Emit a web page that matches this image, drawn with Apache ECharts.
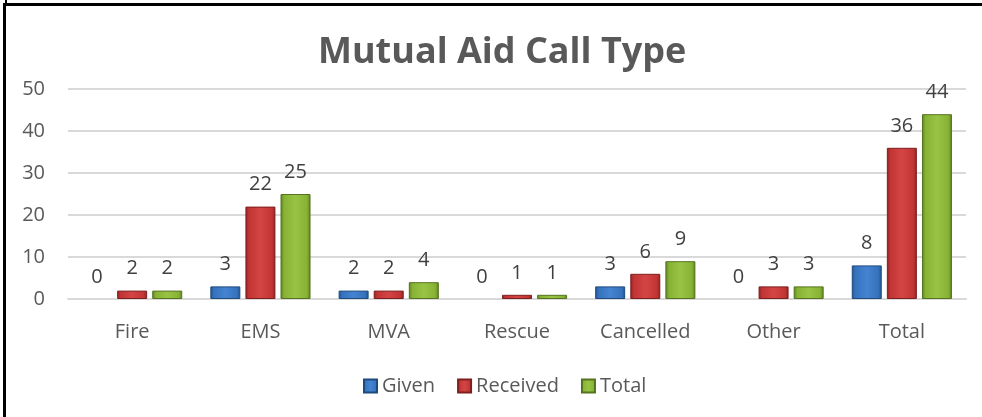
<!DOCTYPE html>
<html>
<head>
<meta charset="utf-8">
<script src="https://cdn.jsdelivr.net/npm/echarts@6/dist/echarts.min.js"></script>
<style>
html,body{margin:0;padding:0;background:#fff;}
#chart{position:absolute;left:0;top:0;width:982px;height:417px;}
#bt{position:absolute;left:3px;top:3px;width:979px;height:3px;background:#000;}
#bl{position:absolute;left:3px;top:3px;width:3px;height:414px;background:#000;}
#bs{position:absolute;left:5px;top:0;width:2px;height:4px;background:#000;}
</style>
</head>
<body>
<div id="chart"></div>
<div id="bt"></div><div id="bl"></div><div id="bs"></div>
<script>
const categories = ['Fire', 'EMS', 'MVA', 'Rescue', 'Cancelled', 'Other', 'Total'];
const givenValues = [0, 3, 2, 0, 3, 0, 8];
const receivedValues = [2, 22, 2, 1, 6, 3, 36];
const totalValues = [2, 25, 4, 1, 9, 3, 44];
const seriesNames = ['Given', 'Received', 'Total'];

function grad(dark, mid, light) {
  return new echarts.graphic.LinearGradient(0, 0, 1, 0, [
    {offset: 0, color: dark},
    {offset: 0.12, color: mid},
    {offset: 0.5, color: light},
    {offset: 0.88, color: mid},
    {offset: 1, color: dark}
  ]);
}
const styles = [
  {c: grad('#24558f', '#3672bd', '#4584d2'), b: '#1f4a7e'},
  {c: grad('#8f2323', '#c23535', '#d44444'), b: '#7e1f1f'},
  {c: grad('#5f7f22', '#87b235', '#98c444'), b: '#55731e'}
];
const labelStyle = {show: true, position: 'top', distance: 12, color: '#404040', fontSize: 20, fontFamily: 'Open Sans'};
const dataSets = [givenValues, receivedValues, totalValues];

const chart = echarts.init(document.getElementById('chart'));
chart.setOption({
  animation: false,
  textStyle: {fontFamily: 'Open Sans'},
  title: {
    text: 'Mutual Aid Call Type',
    left: 313, top: 30,
    textStyle: {fontSize: 36, fontWeight: 'bold', color: '#595959', fontFamily: 'Open Sans'}
  },
  legend: {
    left: 358, top: 371,
    icon: 'rect',
    itemWidth: 13, itemHeight: 13, itemGap: 22,
    textStyle: {fontSize: 20, color: '#595959'},
    data: seriesNames
  },
  grid: {left: 68, right: 16, top: 89, bottom: 118, containLabel: false},
  xAxis: {
    type: 'category', data: categories,
    axisLine: {show: true, lineStyle: {color: '#d9d9d9', width: 2}},
    axisTick: {show: false},
    axisLabel: {fontSize: 20, color: '#595959', margin: 23}
  },
  yAxis: {
    type: 'value', min: 0, max: 50, interval: 10,
    axisLine: {show: false}, axisTick: {show: false},
    splitLine: {lineStyle: {color: '#d9d9d9', width: 2}},
    axisLabel: {fontSize: 20, color: '#595959', margin: 23}
  },
  series: dataSets.map((d, i) => ({
    name: seriesNames[i], type: 'bar',
    data: d.map(v => v === 0 ? {value: v, itemStyle: {borderWidth: 0}} : v),
    barWidth: 30, barGap: '17%',
    itemStyle: {color: styles[i].c, borderColor: styles[i].b, borderWidth: 1},
    label: labelStyle
  }))
});
</script>
</body>
</html>
